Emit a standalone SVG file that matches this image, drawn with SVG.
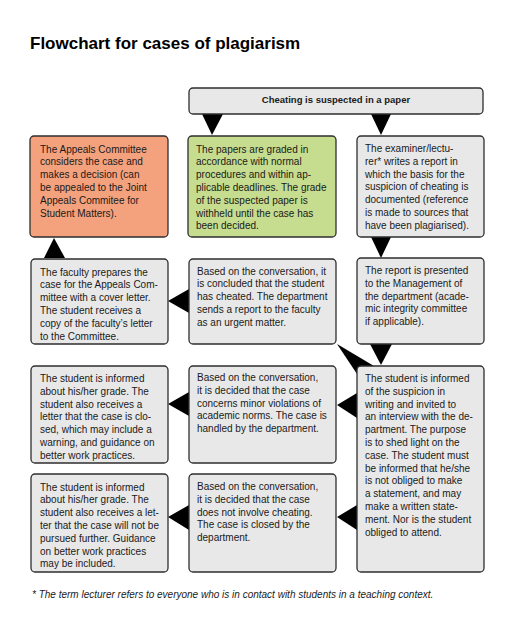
<svg xmlns="http://www.w3.org/2000/svg" width="513" height="639" viewBox="0 0 513 639">
<style>
.bg{fill:#ffffff}
.box{stroke:#2e2e2e;stroke-width:1.3}
.grey{fill:#e8e8e8}
.orange{fill:#f4a27e}
.green{fill:#c6dd8f}
.t{font-family:"Liberation Sans",Arial,sans-serif;font-size:10px;fill:#1a1a1a}
.title{font-family:"Liberation Sans",Arial,sans-serif;font-size:17px;font-weight:bold;fill:#000}
.head{font-family:"Liberation Sans",Arial,sans-serif;font-size:9.5px;font-weight:bold;fill:#1a1a1a}
.foot{font-family:"Liberation Sans",Arial,sans-serif;font-size:10px;font-style:italic;fill:#1a1a1a}
.arrow{fill:#000}
</style>
<rect class="bg" x="0" y="0" width="513" height="639"/>
<text class="title" x="30" y="49">Flowchart for cases of plagiarism</text>

<g id="connectors">
<polygon class="arrow" points="202,114 223,114 212,135"/>
<polygon class="arrow" points="371,114 391,114 381,135"/>
<polygon class="arrow" points="371,237 391,237 381,258"/>
<polygon class="arrow" points="370,344 392,344 381,365"/>
<polygon class="arrow" points="44,258 65,258 54,238"/>
<polygon class="arrow" points="189,289 189,313 168,301"/>
<polygon class="arrow" points="337,344 374,366 357,374"/>
<polygon class="arrow" points="189,392 189,416 168,404"/>
<polygon class="arrow" points="357,393 357,418 337,405"/>
<polygon class="arrow" points="189,505 189,530 168,517"/>
<polygon class="arrow" points="357,505 357,530 337,517"/>
</g>

<g id="start">
<rect class="box grey" x="189" y="88" width="294" height="26" rx="4"/>
<text class="head" x="336" y="103" text-anchor="middle">Cheating is suspected in a paper</text>
</g>

<g id="appeals">
<rect class="box orange" x="30" y="136" width="138" height="101" rx="4"/>
<text class="t" x="40" y="152.5">
<tspan x="40" dy="0">The Appeals Committee</tspan>
<tspan x="40" dy="12.8">considers the case and</tspan>
<tspan x="40" dy="12.8">makes a decision (can</tspan>
<tspan x="40" dy="12.8">be appealed to the Joint</tspan>
<tspan x="40" dy="12.8">Appeals Commitee for</tspan>
<tspan x="40" dy="12.8">Student Matters).</tspan>
</text>
</g>

<g id="graded">
<rect class="box green" x="188" y="136" width="148" height="101" rx="4"/>
<text class="t" x="196" y="152.5">
<tspan x="196" dy="0">The papers are graded in</tspan>
<tspan x="196" dy="12.8">accordance with normal</tspan>
<tspan x="196" dy="12.8">procedures and within ap-</tspan>
<tspan x="196" dy="12.8">plicable deadlines. The grade</tspan>
<tspan x="196" dy="12.8">of the suspected paper is</tspan>
<tspan x="196" dy="12.8">withheld until the case has</tspan>
<tspan x="196" dy="12.8">been decided.</tspan>
</text>
</g>

<g id="report">
<rect class="box grey" x="357" y="136" width="127" height="101" rx="4"/>
<text class="t" x="365" y="152">
<tspan x="365" dy="0">The examiner/lectu-</tspan>
<tspan x="365" dy="12.8">rer* writes a report in</tspan>
<tspan x="365" dy="12.8">which the basis for the</tspan>
<tspan x="365" dy="12.8">suspicion of cheating is</tspan>
<tspan x="365" dy="12.8">documented (reference</tspan>
<tspan x="365" dy="12.8">is made to sources that</tspan>
<tspan x="365" dy="12.8">have been plagiarised).</tspan>
</text>
</g>

<g id="faculty">
<rect class="box grey" x="31" y="259" width="137" height="85" rx="4"/>
<text class="t" x="40" y="275.5">
<tspan x="40" dy="0">The faculty prepares the</tspan>
<tspan x="40" dy="12.8">case for the Appeals Com-</tspan>
<tspan x="40" dy="12.8">mittee with a cover letter.</tspan>
<tspan x="40" dy="12.8">The student receives a</tspan>
<tspan x="40" dy="12.8">copy of the faculty’s letter</tspan>
<tspan x="40" dy="12.8">to the Committee.</tspan>
</text>
</g>

<g id="cheated">
<rect class="box grey" x="189" y="259" width="147" height="85" rx="4"/>
<text class="t" x="197" y="274.5">
<tspan x="197" dy="0">Based on the conversation, it</tspan>
<tspan x="197" dy="12.8">is concluded that the student</tspan>
<tspan x="197" dy="12.8">has cheated. The department</tspan>
<tspan x="197" dy="12.8">sends a report to the faculty</tspan>
<tspan x="197" dy="12.8">as an urgent matter.</tspan>
</text>
</g>

<g id="management">
<rect class="box grey" x="357" y="258" width="127" height="86" rx="4"/>
<text class="t" x="365" y="274">
<tspan x="365" dy="0">The report is presented</tspan>
<tspan x="365" dy="12.8">to the Management of</tspan>
<tspan x="365" dy="12.8">the department (acade-</tspan>
<tspan x="365" dy="12.8">mic integrity committee</tspan>
<tspan x="365" dy="12.8">if applicable).</tspan>
</text>
</g>

<g id="minor-letter">
<rect class="box grey" x="31" y="366" width="137" height="97" rx="4"/>
<text class="t" x="40" y="382">
<tspan x="40" dy="0">The student is informed</tspan>
<tspan x="40" dy="12.8">about his/her grade. The</tspan>
<tspan x="40" dy="12.8">student also receives a</tspan>
<tspan x="40" dy="12.8">letter that the case is clo-</tspan>
<tspan x="40" dy="12.8">sed, which may include a</tspan>
<tspan x="40" dy="12.8">warning, and guidance on</tspan>
<tspan x="40" dy="12.8">better work practices.</tspan>
</text>
</g>

<g id="minor">
<rect class="box grey" x="189" y="366" width="147" height="97" rx="4"/>
<text class="t" x="197" y="381">
<tspan x="197" dy="0">Based on the conversation,</tspan>
<tspan x="197" dy="12.8">it is decided that the case</tspan>
<tspan x="197" dy="12.8">concerns minor violations of</tspan>
<tspan x="197" dy="12.8">academic norms. The case is</tspan>
<tspan x="197" dy="12.8">handled by the department.</tspan>
</text>
</g>

<g id="interview">
<rect class="box grey" x="357" y="366" width="127" height="206" rx="4"/>
<text class="t" x="365" y="382">
<tspan x="365" dy="0">The student is informed</tspan>
<tspan x="365" dy="12.8">of the suspicion in</tspan>
<tspan x="365" dy="12.8">writing and invited to</tspan>
<tspan x="365" dy="12.8">an interview with the de-</tspan>
<tspan x="365" dy="12.8">partment. The purpose</tspan>
<tspan x="365" dy="12.8">is to shed light on the</tspan>
<tspan x="365" dy="12.8">case. The student must</tspan>
<tspan x="365" dy="12.8">be informed that he/she</tspan>
<tspan x="365" dy="12.8">is not obliged to make</tspan>
<tspan x="365" dy="12.8">a statement, and may</tspan>
<tspan x="365" dy="12.8">make a written state-</tspan>
<tspan x="365" dy="12.8">ment. Nor is the student</tspan>
<tspan x="365" dy="12.8">obliged to attend.</tspan>
</text>
</g>

<g id="closed-letter">
<rect class="box grey" x="31" y="474" width="137" height="98" rx="4"/>
<text class="t" x="40" y="490.5">
<tspan x="40" dy="0">The student is informed</tspan>
<tspan x="40" dy="12.8">about his/her grade. The</tspan>
<tspan x="40" dy="12.8">student also receives a let-</tspan>
<tspan x="40" dy="12.8">ter that the case will not be</tspan>
<tspan x="40" dy="12.8">pursued further. Guidance</tspan>
<tspan x="40" dy="12.8">on better work practices</tspan>
<tspan x="40" dy="12.8">may be included.</tspan>
</text>
</g>

<g id="no-cheating">
<rect class="box grey" x="189" y="474" width="147" height="98" rx="4"/>
<text class="t" x="197" y="490">
<tspan x="197" dy="0">Based on the conversation,</tspan>
<tspan x="197" dy="12.8">it is decided that the case</tspan>
<tspan x="197" dy="12.8">does not involve cheating.</tspan>
<tspan x="197" dy="12.8">The case is closed by the</tspan>
<tspan x="197" dy="12.8">department.</tspan>
</text>
</g>

<text class="foot" x="32" y="598">* The term lecturer refers to everyone who is in contact with students in a teaching context.</text>
</svg>
